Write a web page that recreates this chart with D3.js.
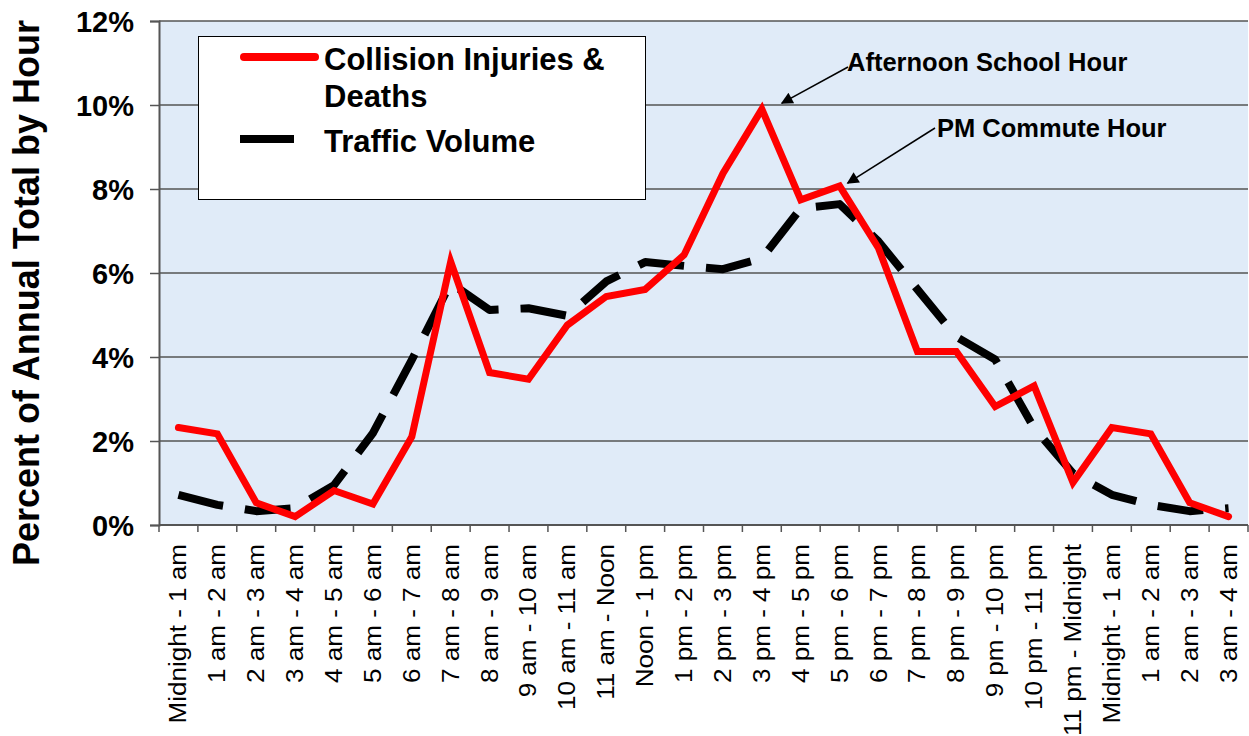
<!DOCTYPE html>
<html>
<head>
<meta charset="utf-8">
<script src="https://cdn.jsdelivr.net/npm/d3@7"></script>
<style>
  body { margin: 0; background: #fff; }
  svg { display: block; font-family: Arial, "Liberation Sans", sans-serif; }
</style>
</head>
<body>
<div id="chart"></div>
<script>
// hour buckets, the chart repeats midnight - 4 am at the right end
var hours = ["Midnight - 1 am", "1 am - 2 am", "2 am - 3 am", "3 am - 4 am",
             "4 am - 5 am", "5 am - 6 am", "6 am - 7 am", "7 am - 8 am",
             "8 am - 9 am", "9 am - 10 am", "10 am - 11 am", "11 am - Noon",
             "Noon - 1 pm", "1 pm - 2 pm", "2 pm - 3 pm", "3 pm - 4 pm",
             "4 pm - 5 pm", "5 pm - 6 pm", "6 pm - 7 pm", "7 pm - 8 pm",
             "8 pm - 9 pm", "9 pm - 10 pm", "10 pm - 11 pm", "11 pm - Midnight",
             "Midnight - 1 am", "1 am - 2 am", "2 am - 3 am", "3 am - 4 am"];

var collisions = [2.32, 2.17, 0.53, 0.20, 0.82, 0.50, 2.10, 6.27, 3.63, 3.47,
                  4.76, 5.44, 5.61, 6.43, 8.37, 9.90, 7.74, 8.07, 6.59, 4.13,
                  4.13, 2.82, 3.31, 1.01, 2.32, 2.17, 0.53, 0.20];

var traffic = [0.72, 0.48, 0.33, 0.40, 0.95, 2.19, 3.93, 5.76, 5.12, 5.16,
               4.98, 5.80, 6.26, 6.17, 6.09, 6.35, 7.54, 7.64, 6.75, 5.61,
               4.48, 3.94, 2.31, 1.23, 0.72, 0.48, 0.33, 0.40];

var yTicks = [0, 2, 4, 6, 8, 10, 12];

var seriesNames = ["Collision Injuries &", "Deaths", "Traffic Volume"];
var notes = [
    { text: "Afternoon School Hour", index: 15 },
    { text: "PM Commute Hour", index: 17 }
];

var width = 1249, height = 736;
var plot = { left: 159, right: 1248, top: 21, bottom: 525 };

var svg = d3.select("#chart").append("svg")
    .attr("width", width)
    .attr("height", height);

var defs = svg.append("defs");
defs.append("marker")
    .attr("id", "arrow")
    .attr("viewBox", "0 0 10 10")
    .attr("refX", 9).attr("refY", 5)
    .attr("markerWidth", 13).attr("markerHeight", 12)
    .attr("markerUnits", "userSpaceOnUse")
    .attr("orient", "auto")
    .append("path")
    .attr("d", "M0,0 L10,5 L0,10 Z")
    .attr("fill", "#000");

var x = d3.scaleBand()
    .domain(d3.range(hours.length))
    .range([plot.left, plot.right]);

var y = d3.scaleLinear()
    .domain([0, 12])
    .range([plot.bottom, plot.top]);

// plot background
svg.append("rect")
    .attr("x", plot.left)
    .attr("y", plot.top)
    .attr("width", plot.right - plot.left)
    .attr("height", plot.bottom - plot.top)
    .attr("fill", "#e0ebf8");

// gridlines
svg.append("g")
    .selectAll("line")
    .data(yTicks.filter(function(d) { return d > 0; }))
    .enter().append("line")
    .attr("x1", plot.left).attr("x2", plot.right)
    .attr("y1", function(d) { return y(d); })
    .attr("y2", function(d) { return y(d); })
    .attr("stroke", "#555")
    .attr("stroke-width", 1.5);

// y axis
var yAxis = svg.append("g")
    .attr("transform", "translate(" + plot.left + ",0)")
    .call(d3.axisLeft(y).tickValues(yTicks).tickSize(9).tickPadding(16)
          .tickFormat(function(d) { return d + "%"; }));
yAxis.select(".domain").attr("stroke", "#555").attr("stroke-width", 2);
yAxis.selectAll(".tick line").attr("stroke", "#555").attr("stroke-width", 1.5);
yAxis.selectAll(".tick text")
    .attr("font-size", "29px")
    .attr("font-weight", "bold")
    .attr("fill", "#000")
    .attr("dy", "0.36em");

// x axis: ticks between categories
var xAxis = svg.append("g");
xAxis.append("line")
    .attr("x1", plot.left).attr("x2", plot.right)
    .attr("y1", plot.bottom).attr("y2", plot.bottom)
    .attr("stroke", "#555").attr("stroke-width", 2);
xAxis.selectAll(".xtick")
    .data(d3.range(hours.length + 1))
    .enter().append("line")
    .attr("class", "xtick")
    .attr("x1", function(i) { return plot.left + i * x.step(); })
    .attr("x2", function(i) { return plot.left + i * x.step(); })
    .attr("y1", plot.bottom).attr("y2", plot.bottom + 7)
    .attr("stroke", "#555").attr("stroke-width", 1.5);
xAxis.selectAll(".xlabel")
    .data(hours)
    .enter().append("text")
    .attr("class", "xlabel")
    .attr("transform", function(d, i) {
        return "translate(" + (x(i) + x.bandwidth() / 2 + 8) + "," + (plot.bottom + 19) + ") rotate(-90) scale(1.085,1)";
    })
    .attr("text-anchor", "end")
    .attr("font-size", "24px")
    .attr("fill", "#000")
    .text(function(d) { return d; });

// y title
svg.append("text")
    .attr("transform", "translate(39," + ((plot.top + plot.bottom) / 2 + 20) + ") rotate(-90)")
    .attr("text-anchor", "middle")
    .attr("font-size", "36px")
    .attr("font-weight", "bold")
    .text("Percent of Annual Total by Hour");

// series lines
var line = d3.line()
    .x(function(d, i) { return x(i) + x.bandwidth() / 2; })
    .y(function(d) { return y(d); });

svg.append("path")
    .datum(traffic)
    .attr("d", line)
    .attr("fill", "none")
    .attr("stroke", "#000")
    .attr("stroke-width", 8)
    .attr("stroke-dasharray", "46,22")
    .attr("stroke-linejoin", "round");

svg.append("path")
    .datum(collisions)
    .attr("d", line)
    .attr("fill", "none")
    .attr("stroke", "#ff0000")
    .attr("stroke-width", 7)
    .attr("stroke-linejoin", "miter")
    .attr("stroke-linecap", "round");

// annotations
var notePos = [
    { tx: 847, ty: 71, from: [848, 67], dx: 20, dy: -6, series: collisions },
    { tx: 937, ty: 137, from: [935, 128], dx: 8, dy: -3, series: collisions }
];
notes.forEach(function(n, k) {
    var p = notePos[k];
    var tipX = x(n.index) + x.bandwidth() / 2 + p.dx,
        tipY = y(p.series[n.index]) + p.dy;
    svg.append("line")
        .attr("x1", p.from[0]).attr("y1", p.from[1])
        .attr("x2", tipX).attr("y2", tipY)
        .attr("stroke", "#000")
        .attr("stroke-width", 1.5)
        .attr("marker-end", "url(#arrow)");
    svg.append("text")
        .attr("x", p.tx).attr("y", p.ty)
        .attr("font-size", "25.5px")
        .attr("font-weight", "bold")
        .text(n.text);
});

// legend
var legend = svg.append("g");
legend.append("rect")
    .attr("x", 198.5).attr("y", 36.5)
    .attr("width", 447).attr("height", 163)
    .attr("fill", "#fff")
    .attr("stroke", "#000")
    .attr("stroke-width", 1);
legend.append("line")
    .attr("x1", 244).attr("x2", 315)
    .attr("y1", 57).attr("y2", 57)
    .attr("stroke", "#ff0000").attr("stroke-width", 8)
    .attr("stroke-linecap", "round");
legend.append("line")
    .attr("x1", 240).attr("x2", 294)
    .attr("y1", 139).attr("y2", 139)
    .attr("stroke", "#000").attr("stroke-width", 8);
legend.selectAll(".ltext")
    .data(seriesNames)
    .enter().append("text")
    .attr("class", "ltext")
    .attr("x", 324)
    .attr("y", function(d, i) { return [70, 107, 152][i]; })
    .attr("font-size", "31px")
    .attr("font-weight", "bold")
    .text(function(d) { return d; });
</script>
</body>
</html>
